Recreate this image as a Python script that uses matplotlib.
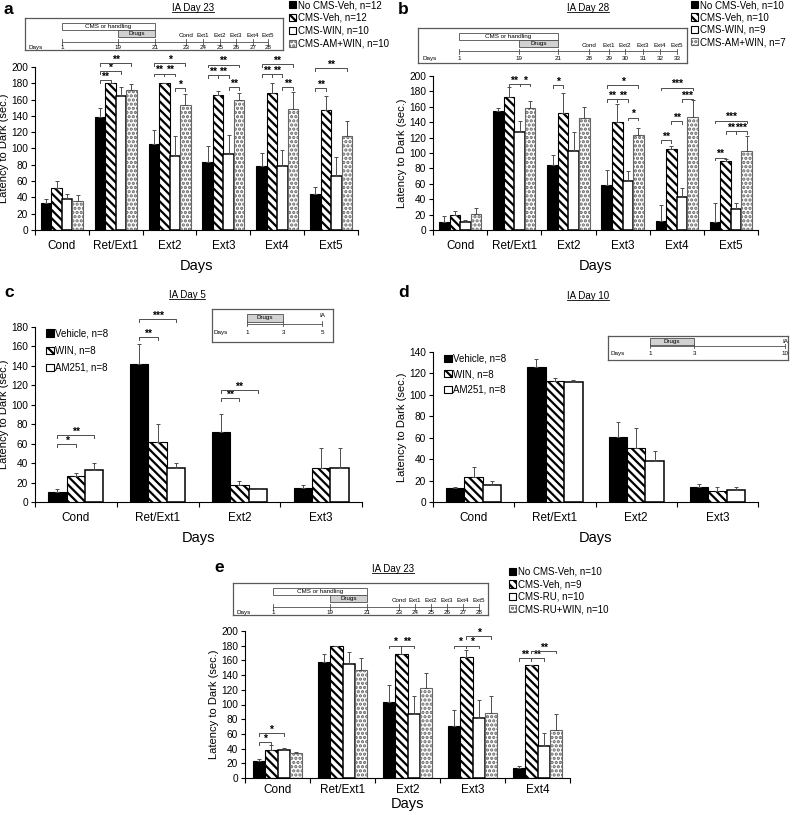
import numpy as np
import matplotlib.pyplot as plt
from matplotlib.patches import Patch, Rectangle
from matplotlib.lines import Line2D

plt.rcParams['font.family'] = ['Liberation Sans', 'DejaVu Sans']
plt.rcParams['hatch.linewidth'] = 1.6

W, H = 795, 815

# ---------------- data ----------------
days6 = ["Cond", "Ret/Ext1", "Ext2", "Ext3", "Ext4", "Ext5"]
days5 = ["Cond", "Ret/Ext1", "Ext2", "Ext3", "Ext4"]
days4 = ["Cond", "Ret/Ext1", "Ext2", "Ext3"]

a_names = ["No CMS-Veh, n=12", "CMS-Veh, n=12", "CMS-WIN, n=10", "CMS-AM+WIN, n=10"]
a_mean = [[33, 139, 105, 84, 78, 44],
          [51, 180, 180, 166, 168, 147],
          [38, 165, 91, 93, 78, 66],
          [35, 172, 153, 160, 149, 115]]
a_err = [[5, 11, 18, 19, 17, 9],
         [9, 0, 0, 5, 12, 17],
         [6, 10, 24, 23, 20, 23],
         [8, 7, 14, 8, 20, 19]]
a_sig = [(1, 0, 3, 205, "**"), (1, 0, 2, 195, "*"), (1, 0, 1, 184, "**"),
         (2, 0, 3, 205, "*"), (2, 0, 1, 192, "**"), (2, 1, 2, 192, "**"), (2, 2, 3, 174, "*"),
         (3, 0, 3, 203, "**"), (3, 0, 1, 190, "**"), (3, 1, 2, 190, "**"), (3, 2, 3, 175, "**"),
         (4, 0, 3, 204, "**"), (4, 0, 1, 191, "**"), (4, 1, 2, 191, "**"), (4, 2, 3, 175, "**"),
         (5, 0, 3, 199, "**"), (5, 0, 1, 174, "**")]

b_names = ["No CMS-Veh, n=10", "CMS-Veh, n=10", "CMS-WIN, n=9", "CMS-AM+WIN, n=7"]
b_mean = [[10, 155, 84, 58, 12, 10],
          [20, 173, 152, 140, 105, 90],
          [10, 127, 102, 64, 43, 27],
          [21, 159, 146, 124, 147, 103]]
b_err = [[8, 3, 13, 20, 21, 25],
         [5, 13, 26, 23, 4, 2],
         [3, 15, 25, 13, 11, 8],
         [8, 8, 14, 8, 22, 19]]
b_sig = [(1, 1, 2, 190, "**"), (1, 2, 3, 190, "*"),
         (2, 0, 1, 188, "*"),
         (3, 0, 3, 188, "*"), (3, 0, 1, 170, "**"), (3, 1, 2, 170, "**"), (3, 2, 3, 146, "*"),
         (4, 0, 3, 185, "***"), (4, 2, 3, 170, "***"), (4, 1, 2, 141, "**"), (4, 0, 1, 117, "**"),
         (5, 0, 3, 142, "***"), (5, 1, 2, 128, "**"), (5, 2, 3, 128, "***"), (5, 0, 1, 94, "**")]

c_names = ["Vehicle, n=8", "WIN, n=8", "AM251, n=8"]
c_mean = [[10, 142, 72, 14],
          [27, 62, 18, 35],
          [33, 35, 13, 35]]
c_err = [[3, 21, 19, 4],
         [3, 18, 4, 21],
         [7, 5, 0, 21]]
c_sig = [(0, 0, 2, 69, "**"), (0, 0, 1, 60, "*"),
         (1, 0, 2, 188, "***"), (1, 0, 1, 170, "**"),
         (2, 0, 2, 115, "**"), (2, 0, 1, 107, "**")]

d_names = ["Vehicle, n=8", "WIN, n=8", "AM251, n=8"]
d_mean = [[13, 126, 61, 14],
          [23, 113, 50, 10],
          [16, 112, 38, 11]]
d_err = [[1, 7, 14, 3],
         [10, 3, 19, 4],
         [4, 2, 10, 3]]

e_names = ["No CMS-Veh, n=10", "CMS-Veh, n=9", "CMS-RU, n=10", "CMS-RU+WIN, n=10"]
e_mean = [[23, 158, 104, 71, 13],
          [38, 180, 169, 164, 154],
          [38, 155, 87, 82, 43],
          [34, 147, 122, 89, 65]]
e_err = [[3, 11, 23, 21, 4],
         [7, 0, 10, 10, 0],
         [3, 16, 24, 24, 18],
         [2, 16, 21, 22, 22]]
e_sig = [(0, 0, 2, 61, "*"), (0, 0, 1, 49, "*"),
         (2, 0, 1, 180, "*"), (2, 1, 2, 180, "**"),
         (3, 0, 1, 180, "*"), (3, 1, 2, 180, "*"), (3, 1, 3, 193, "*"),
         (4, 0, 1, 163, "**"), (4, 1, 2, 163, "**"), (4, 1, 3, 173, "**")]

# timelines (schematic)
tl_a_days = ["1", "19", "21", "23", "24", "25", "26", "27", "28"]
tl_b_days = ["1", "19", "21", "28", "29", "30", "31", "32", "33"]
tl_top = ["Cond", "Ext1", "Ext2", "Ext3", "Ext4", "Ext5"]
tl_c_days = ["1", "3", "5"]
tl_d_days = ["1", "3", "10"]

STYLES = [dict(color="black", edgecolor="black", linewidth=0.8),
          dict(color="white", edgecolor="black", hatch="\\\\\\\\", linewidth=0.8),
          dict(color="white", edgecolor="black", linewidth=1.1),
          dict(color="white", edgecolor="0.4", hatch="....", linewidth=0.8)]

fig = plt.figure(figsize=(W / 100, H / 100), dpi=100)
bar_axes = []


def px(l, t, r, b):
    return [l / W, 1 - b / H, (r - l) / W, (b - t) / H]


def bar_panel(rect, cats, means, errs, ymax, gw, pads=(7, 5)):
    ax = fig.add_axes(px(*rect))
    n = len(means)
    w = gw / n
    x = np.arange(len(cats))
    for i in range(n):
        xi = x + (i - (n - 1) / 2) * w
        ax.bar(xi, means[i], w, zorder=2, **STYLES[i])
        ax.errorbar(xi, means[i], yerr=[np.zeros(len(cats)), errs[i]], fmt="none",
                    ecolor="0.3", elinewidth=0.7, capsize=1.5, capthick=0.7, zorder=3)
    ax.set_xlim(-0.5, len(cats) - 0.5)
    ax.set_ylim(0, ymax)
    ax.set_yticks(np.arange(0, ymax + 1, 20))
    ax.set_xticks(x)
    ax.set_xticklabels(cats, fontsize=8.5)
    ax.set_xticks(np.arange(len(cats) + 1) - 0.5, minor=True)
    ax.tick_params(axis="x", which="major", length=0, pad=pads[0])
    ax.tick_params(axis="x", which="minor", length=3.5, width=0.8)
    ax.tick_params(axis="y", labelsize=7.3, length=3, width=0.8, pad=2)
    for s in ["top", "right"]:
        ax.spines[s].set_visible(False)
    for s in ["left", "bottom"]:
        ax.spines[s].set_linewidth(0.8)
    ax.set_xlabel("Days", fontsize=10.5, labelpad=pads[1])
    ax.set_ylabel("Latency to Dark (sec.)", fontsize=8)
    ax.yaxis.set_label_coords(-0.08, 0.5)
    ax.w = w
    ax.n = n
    bar_axes.append(ax)
    return ax


def brackets(ax, sig):
    d = ax.get_ylim()[1] * 0.018
    for cat, i, j, y, txt in sig:
        x1 = cat + (i - (ax.n - 1) / 2) * ax.w
        x2 = cat + (j - (ax.n - 1) / 2) * ax.w
        ax.plot([x1, x1, x2, x2], [y - d, y, y, y - d], color="0.3", lw=0.7,
                clip_on=False, zorder=4)
        ax.text((x1 + x2) / 2, y - d * 0.6, txt, ha="center", va="bottom",
                fontsize=7.5, fontweight="bold", clip_on=False)


def handles(names):
    return [Patch(facecolor=STYLES[i]["color"], edgecolor=STYLES[i]["edgecolor"],
                  hatch=STYLES[i].get("hatch"), linewidth=0.8, label=nm)
            for i, nm in enumerate(names)]


def timeline(rect, days, xs, top, cms, drugs, ly):
    ax = fig.add_axes(px(*rect))
    ax.set_xlim(0, 1)
    ax.set_ylim(0, 1)
    ax.set_xticks([])
    ax.set_yticks([])
    for s in ax.spines.values():
        s.set_color("0.35")
        s.set_linewidth(0.9)
    fs = 4.5
    line_y, num_y, top_y, box_y = ly
    ax.plot([xs[0], xs[-1]], [line_y, line_y], color="0.3", lw=0.6)
    for lab, xv in zip(days, xs):
        ax.plot([xv, xv], [line_y - 0.08, line_y + 0.08], color="0.3", lw=0.6)
        ax.text(xv, num_y, lab, ha="center", va="center", fontsize=fs)
    for lab, xv in zip(top, xs[len(xs) - len(top):]):
        ax.text(xv, top_y, lab, ha="center", va="center", fontsize=fs)
    ax.text(0.015, num_y, "Days", ha="left", va="center", fontsize=fs)
    bh = box_y[1]
    if cms is not None:
        ax.add_patch(Rectangle((cms[0], box_y[0] + bh), cms[1] - cms[0], bh,
                               facecolor="white", edgecolor="0.3", lw=0.6))
        ax.text((cms[0] + cms[1]) / 2, box_y[0] + bh * 1.5, "CMS or handling",
                ha="center", va="center", fontsize=fs)
    ax.add_patch(Rectangle((drugs[0], box_y[0]), drugs[1] - drugs[0], bh,
                           facecolor="0.82", edgecolor="0.3", lw=0.6))
    ax.text((drugs[0] + drugs[1]) / 2, box_y[0] + bh * 0.5, "Drugs",
            ha="center", va="center", fontsize=fs)
    return ax


LEG = dict(frameon=False, fontsize=7, handlelength=0.75, handleheight=0.75,
           handletextpad=0.15, borderpad=0, borderaxespad=0)

# ---------------- panel a ----------------
ax_a = bar_panel((35, 67, 358, 230), days6, a_mean, a_err, 200, 0.78)
brackets(ax_a, a_sig)
xa = [0.143, 0.36, 0.504, 0.624, 0.69, 0.756, 0.818, 0.884, 0.942]
timeline((25, 18, 283, 50), tl_a_days, xa, tl_top, (xa[0], xa[2]), (xa[1], xa[2]),
         (0.25, 0.07, 0.46, (0.4, 0.22)))
fig.legend(handles=handles(a_names), loc="upper left", bbox_to_anchor=(289 / W, 1 - 0 / H),
           labelspacing=0.3, **LEG)

# ---------------- panel b ----------------
ax_b = bar_panel((433, 76, 758, 230), days6, b_mean, b_err, 200, 0.78)
brackets(ax_b, b_sig)
xb = [0.152, 0.375, 0.52, 0.636, 0.71, 0.77, 0.836, 0.9, 0.963]
timeline((418, 28, 687, 63), tl_b_days, xb, tl_top, (xb[0], xb[2]), (xb[1], xb[2]),
         (0.33, 0.13, 0.5, (0.46, 0.2)))
fig.legend(handles=handles(b_names), loc="upper left", bbox_to_anchor=(691 / W, 1 - 0 / H),
           labelspacing=0.25, **LEG)

# ---------------- panel c ----------------
ax_c = bar_panel((35, 327, 362, 502), days4, c_mean, c_err, 180, 0.675)
brackets(ax_c, c_sig)
ax_c.legend(handles=handles(c_names), loc="upper left", bbox_to_anchor=(0.02, 1.02),
            frameon=False, fontsize=7, handlelength=0.75, handleheight=0.75,
            handletextpad=0.15, labelspacing=0.75, borderpad=0)
xc = [0.29, 0.59, 0.91]
timeline((212, 309, 333, 342), tl_c_days, xc, ["IA"], None, (xc[0], xc[1]),
         (0.56, 0.3, 0.8, (0.62, 0.23)))

# ---------------- panel d ----------------
ax_d = bar_panel((433, 352, 758, 502), days4, d_mean, d_err, 140, 0.68)
ax_d.legend(handles=handles(d_names), loc="upper left", bbox_to_anchor=(0.02, 1.02),
            frameon=False, fontsize=7, handlelength=0.75, handleheight=0.75,
            handletextpad=0.15, labelspacing=0.55, borderpad=0)
xd = [0.233, 0.478, 0.983]
timeline((608, 336, 788, 360), tl_d_days, xd, ["IA"], None, (xd[0], xd[1]),
         (0.58, 0.28, 0.75, (0.62, 0.3)))

# ---------------- panel e ----------------
ax_e = bar_panel((245, 631, 570, 778), days5, e_mean, e_err, 200, 0.75, pads=(4, 1))
brackets(ax_e, e_sig)
xe = [0.157, 0.38, 0.525, 0.651, 0.714, 0.776, 0.839, 0.902, 0.965]
timeline((233, 583, 488, 615), tl_a_days, xe, tl_top, (xe[0], xe[2]), (xe[1], xe[2]),
         (0.25, 0.07, 0.46, (0.4, 0.22)))
fig.legend(handles=handles(e_names), loc="upper left", bbox_to_anchor=(509 / W, 1 - 567 / H),
           labelspacing=0.25, **LEG)

# ---------------- letters and titles ----------------
for lab, xl, yl in [("a", 4, 9), ("b", 398, 9), ("c", 4, 293), ("d", 398, 293), ("e", 214, 568)]:
    fig.text(xl / W, 1 - yl / H, lab, fontsize=12.5, fontweight="bold", va="center")

titles = []
for lab, xt, yt in [("IA Day 23", 193, 8), ("IA Day 28", 588, 8), ("IA Day 5", 187, 295),
                    ("IA Day 10", 588, 296), ("IA Day 23", 393, 569)]:
    titles.append(fig.text(xt / W, 1 - yt / H, lab, fontsize=7, ha="center", va="center"))

# put each y label just left of its tick labels
fig.canvas.draw()
r = fig.canvas.get_renderer()
for ax in bar_axes:
    tick_x0 = min(t.get_window_extent(r).x0 for t in ax.get_yticklabels())
    lab_bb = ax.yaxis.label.get_window_extent(r)
    shift = (tick_x0 - 2) - lab_bb.x1
    ax_w = ax.get_window_extent(r).width
    ax.yaxis.set_label_coords(-0.08 + shift / ax_w, 0.5)

fig.canvas.draw()
inv = fig.transFigure.inverted()
for t in titles:
    bb = t.get_window_extent()
    (x0, y0), (x1, _) = inv.transform([(bb.x0, bb.y0 + 1), (bb.x1, bb.y0)])
    fig.add_artist(Line2D([x0, x1], [y0, y0], color="black", lw=0.6, transform=fig.transFigure))

fig.savefig("out.png", dpi=100)
